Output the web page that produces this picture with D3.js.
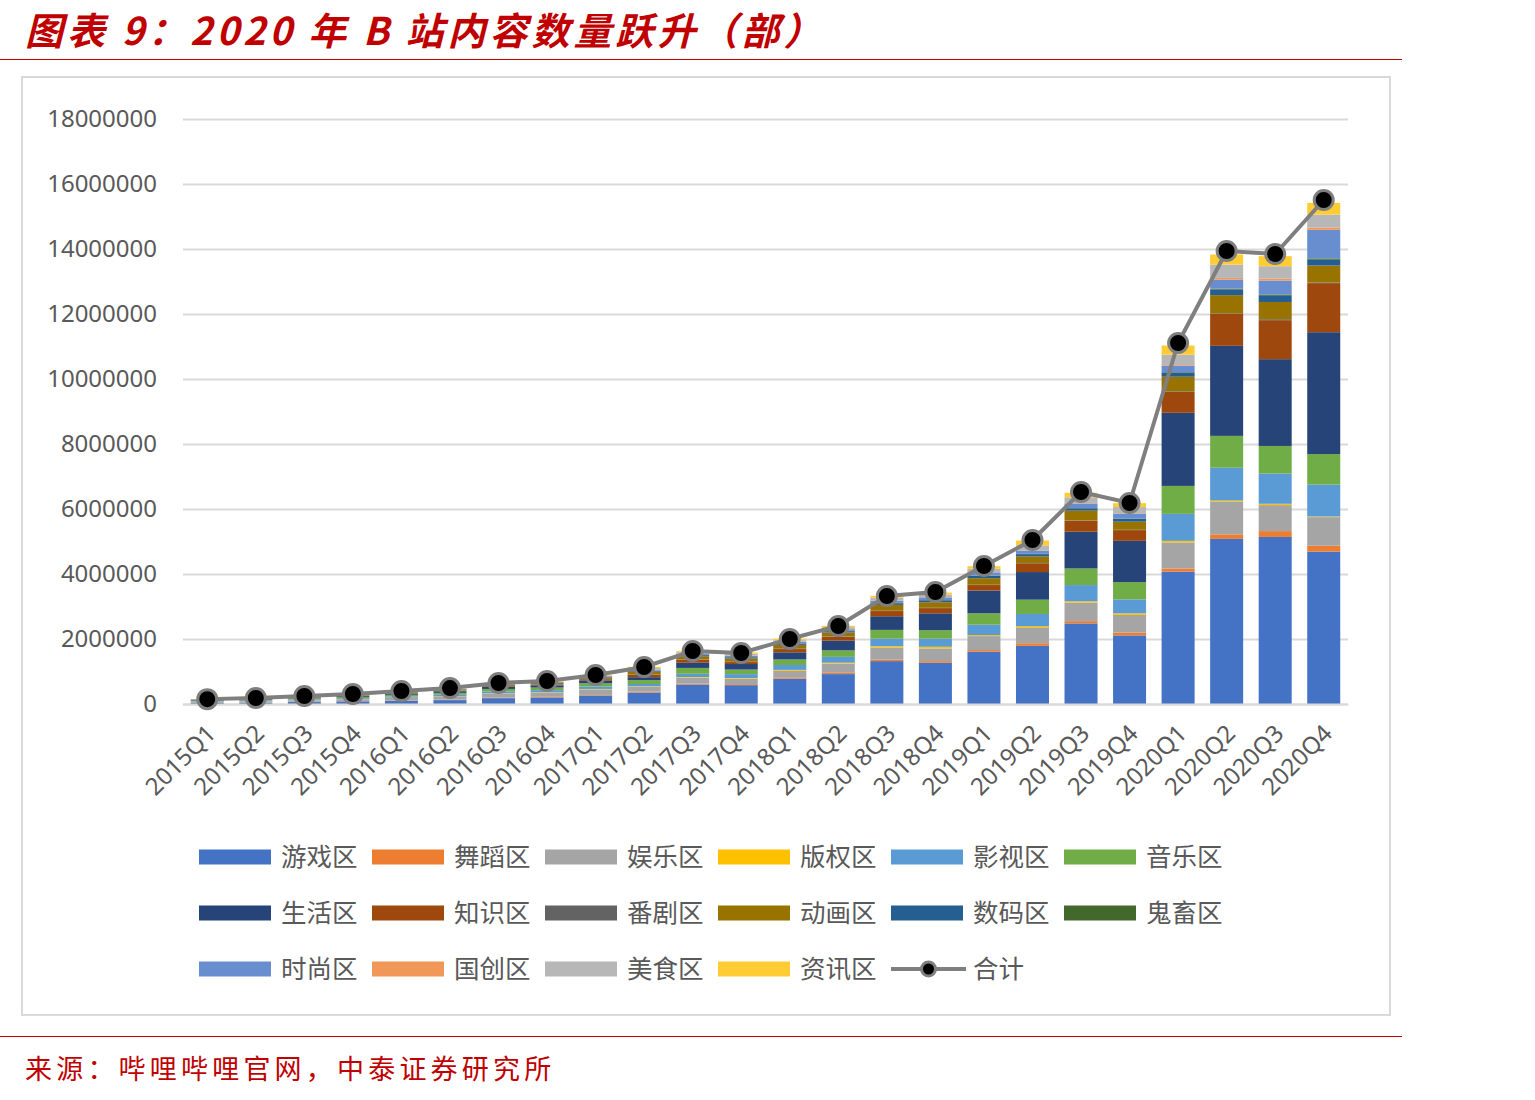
<!DOCTYPE html>
<html>
<head>
<meta charset="utf-8">
<script src="https://cdn.jsdelivr.net/npm/d3@7"></script>
<style>
  body { margin: 0; background: #fff; }
  svg { display: block; }
</style>
</head>
<body>
<div id="container"></div>
<script>
// categories
const periods = ["2015Q1","2015Q2","2015Q3","2015Q4","2016Q1","2016Q2","2016Q3","2016Q4",
  "2017Q1","2017Q2","2017Q3","2017Q4","2018Q1","2018Q2","2018Q3","2018Q4",
  "2019Q1","2019Q2","2019Q3","2019Q4","2020Q1","2020Q2","2020Q3","2020Q4"];

const seriesNames = ["游戏区","舞蹈区","娱乐区","版权区","影视区","音乐区","生活区","知识区",
  "番剧区","动画区","数码区","鬼畜区","时尚区","国创区","美食区","资讯区"];

const seriesColors = ["#4472C4","#ED7D31","#A5A5A5","#FFC000","#5B9BD5","#70AD47","#264478","#9E480E",
  "#636363","#997300","#255E91","#43682B","#698ED0","#F1975A","#B7B7B7","#FFCD33"];

// series values
const youxi   = [30000,40000,60000,80000,100000,120000,180000,200000,260000,350000,600000,580000,780000,920000,1320000,1270000,1610000,1790000,2480000,2110000,4070000,5080000,5140000,4690000];
const wudao   = [5000,6000,8000,10000,12000,15000,18000,20000,20000,30000,30000,30000,40000,40000,50000,50000,50000,80000,70000,90000,100000,140000,180000,180000];
const yule    = [30000,35000,45000,55000,75000,90000,120000,130000,170000,150000,180000,170000,200000,280000,370000,390000,430000,470000,570000,540000,800000,1000000,800000,880000];
const banquan = [2000,3000,4000,5000,6000,8000,10000,11000,13000,15000,20000,20000,30000,30000,40000,50000,30000,50000,40000,50000,50000,40000,40000,20000];
const yingshi = [15000,18000,25000,30000,40000,50000,60000,65000,75000,70000,100000,120000,150000,180000,230000,250000,320000,380000,500000,430000,830000,1010000,930000,980000];
const yinyue  = [20000,25000,32000,40000,50000,60000,75000,80000,100000,120000,180000,140000,170000,200000,270000,260000,350000,440000,510000,530000,860000,980000,850000,940000];
const shenghuo= [15000,20000,25000,30000,40000,50000,65000,70000,90000,90000,160000,170000,220000,300000,420000,520000,700000,850000,1130000,1270000,2250000,2770000,2670000,3750000];
const zhishi  = [5000,6000,8000,10000,13000,16000,22000,24000,35000,70000,90000,60000,100000,120000,160000,160000,170000,270000,340000,330000,640000,980000,1200000,1510000];
const fanju   = [3000,3000,3000,4000,5000,6000,7000,8000,9000,10000,10000,10000,10000,10000,10000,10000,10000,10000,10000,10000,20000,20000,30000,20000];
const donghua = [12000,14000,16000,18000,22000,28000,35000,38000,50000,90000,100000,100000,120000,120000,180000,170000,200000,200000,300000,250000,450000,560000,530000,520000];
const shuma   = [3000,4000,5000,6000,8000,10000,12000,13000,16000,25000,30000,35000,40000,40000,50000,60000,70000,70000,70000,90000,120000,170000,190000,180000];
const guichu  = [2000,2000,2000,3000,4000,5000,6000,6000,7000,8000,10000,10000,10000,10000,10000,10000,10000,10000,10000,10000,20000,30000,30000,40000];
const shishang= [3000,4000,5000,6000,8000,10000,12000,13000,15000,30000,40000,45000,40000,50000,70000,80000,100000,100000,140000,150000,200000,280000,440000,880000];
const guochuang=[1000,1000,1000,1000,2000,2000,3000,3000,4000,5000,5000,5000,5000,5000,10000,10000,10000,10000,10000,10000,20000,50000,60000,70000];
const meishi  = [3000,3000,4000,6000,9000,12000,13000,16000,17000,45000,40000,50000,50000,60000,80000,80000,100000,150000,180000,190000,320000,410000,380000,400000];
const zixun   = [2000,2000,3000,4000,6000,8000,8000,11000,11000,35000,30000,40000,40000,40000,60000,60000,80000,150000,140000,120000,280000,310000,310000,360000];

const total = [150000,185000,246000,308000,400000,490000,646000,708000,892000,1138000,1630000,1570000,
  2000000,2400000,3323000,3446000,4246000,5046000,6523000,6185000,11108000,13938000,13846000,15508000];

// tick labels
const yTicks = [0,2000000,4000000,6000000,8000000,10000000,12000000,14000000,16000000,18000000];

const seriesValues = [youxi,wudao,yule,banquan,yingshi,yinyue,shenghuo,zhishi,
  fanju,donghua,shuma,guichu,shishang,guochuang,meishi,zixun];

const W = 1535, H = 1100;
const svg = d3.select("#container").append("svg")
  .attr("width", W).attr("height", H);

const red = "#C00000";
const cjk = "'Noto Sans CJK SC', 'Noto Sans', sans-serif";

// title
svg.append("text")
  .attr("x", 25).attr("y", 45)
  .attr("fill", red)
  .attr("font-family", cjk)
  .attr("font-size", 38)
  .attr("font-weight", "bold")
  .attr("font-style", "italic")
  .attr("letter-spacing", 4)
  .text("图表 9：2020 年 B 站内容数量跃升（部）");

svg.append("line").attr("x1", 0).attr("x2", 1402).attr("y1", 59.5).attr("y2", 59.5)
  .attr("stroke", red).attr("stroke-width", 1.2);

// chart frame
svg.append("rect").attr("x", 22).attr("y", 77).attr("width", 1368).attr("height", 938)
  .attr("fill", "none").attr("stroke", "#D9D9D9").attr("stroke-width", 2);

// scales
const x = d3.scaleBand().domain(periods).range([183, 1348]).paddingInner(0.32).paddingOuter(0.16);
const y = d3.scaleLinear().domain([0, 18000000]).range([704, 119]);

// grid + y labels
const yAxis = d3.axisLeft(y).tickValues(yTicks).tickSize(-(1348 - 183)).tickFormat(d3.format("d"));
const gy = svg.append("g").attr("transform", "translate(183,0)").call(yAxis);
gy.select(".domain").remove();
gy.selectAll(".tick line").attr("stroke", "#D9D9D9").attr("stroke-width", 2);
gy.selectAll(".tick text").attr("x", -26).attr("fill", "#595959")
  .attr("font-family", "'Noto Sans', sans-serif").attr("font-size", 24);

// stacked bars
const table = periods.map((p, i) => {
  const row = { period: p };
  seriesNames.forEach((s, k) => { row[s] = seriesValues[k][i]; });
  return row;
});
const stack = d3.stack().keys(seriesNames)(table);

svg.append("g").selectAll("g")
  .data(stack)
  .join("g")
  .attr("fill", (d, k) => seriesColors[k])
  .selectAll("rect")
  .data(d => d)
  .join("rect")
  .attr("x", d => x(d.data.period))
  .attr("width", x.bandwidth())
  .attr("y", d => y(d[1]))
  .attr("height", d => y(d[0]) - y(d[1]));

// x axis
const xAxis = d3.axisBottom(x).tickSize(0);
const gx = svg.append("g").attr("transform", "translate(0,704)").call(xAxis);
gx.select(".domain").attr("stroke", "#D9D9D9").attr("stroke-width", 2);
gx.selectAll(".tick text")
  .attr("fill", "#595959")
  .attr("font-family", "'Noto Sans', sans-serif")
  .attr("font-size", 24)
  .attr("text-anchor", "end")
  .attr("dy", 0)
  .attr("y", 0)
  .attr("transform", "translate(10,31) rotate(-45)");

// total line
const cx = (d, i) => x(periods[i]) + x.bandwidth() / 2;
const line = d3.line().x(cx).y(d => y(d));
svg.append("path").datum(total)
  .attr("d", line)
  .attr("fill", "none")
  .attr("stroke", "#7F7F7F")
  .attr("stroke-width", 4);
svg.append("g").selectAll("circle")
  .data(total)
  .join("circle")
  .attr("cx", cx)
  .attr("cy", d => y(d))
  .attr("r", 9.5)
  .attr("fill", "#000")
  .attr("stroke", "#7F7F7F")
  .attr("stroke-width", 3);

// legend
const legendItems = seriesNames.map((s, k) => ({ name: s, color: seriesColors[k], type: "bar" }));
legendItems.push({ name: "合计", type: "line" });

const legend = svg.append("g").attr("font-family", cjk);
legendItems.forEach((d, k) => {
  const col = k % 6, row = Math.floor(k / 6);
  const lx = 199 + col * 173, ly = 857 + row * 56;
  const g = legend.append("g").attr("transform", `translate(${lx},${ly})`);
  if (d.type === "bar") {
    g.append("rect").attr("x", 0).attr("y", -7.5).attr("width", 72).attr("height", 15).attr("fill", d.color);
  } else {
    g.append("line").attr("x1", 0).attr("x2", 75).attr("y1", 0).attr("y2", 0)
      .attr("stroke", "#7F7F7F").attr("stroke-width", 4);
    g.append("circle").attr("cx", 37.5).attr("cy", 0).attr("r", 7)
      .attr("fill", "#000").attr("stroke", "#7F7F7F").attr("stroke-width", 3);
  }
  g.append("text").attr("x", 82).attr("y", 0).attr("dy", "0.36em")
    .attr("fill", "#595959").attr("font-size", 25.5).text(d.name);
});

// bottom
svg.append("line").attr("x1", 0).attr("x2", 1402).attr("y1", 1036.5).attr("y2", 1036.5)
  .attr("stroke", red).attr("stroke-width", 1.2);
svg.append("text")
  .attr("x", 25).attr("y", 1079)
  .attr("fill", red)
  .attr("font-family", cjk)
  .attr("font-size", 27)
  .attr("letter-spacing", 4.2)
  .text("来源：哔哩哔哩官网，中泰证券研究所");
</script>
</body>
</html>
